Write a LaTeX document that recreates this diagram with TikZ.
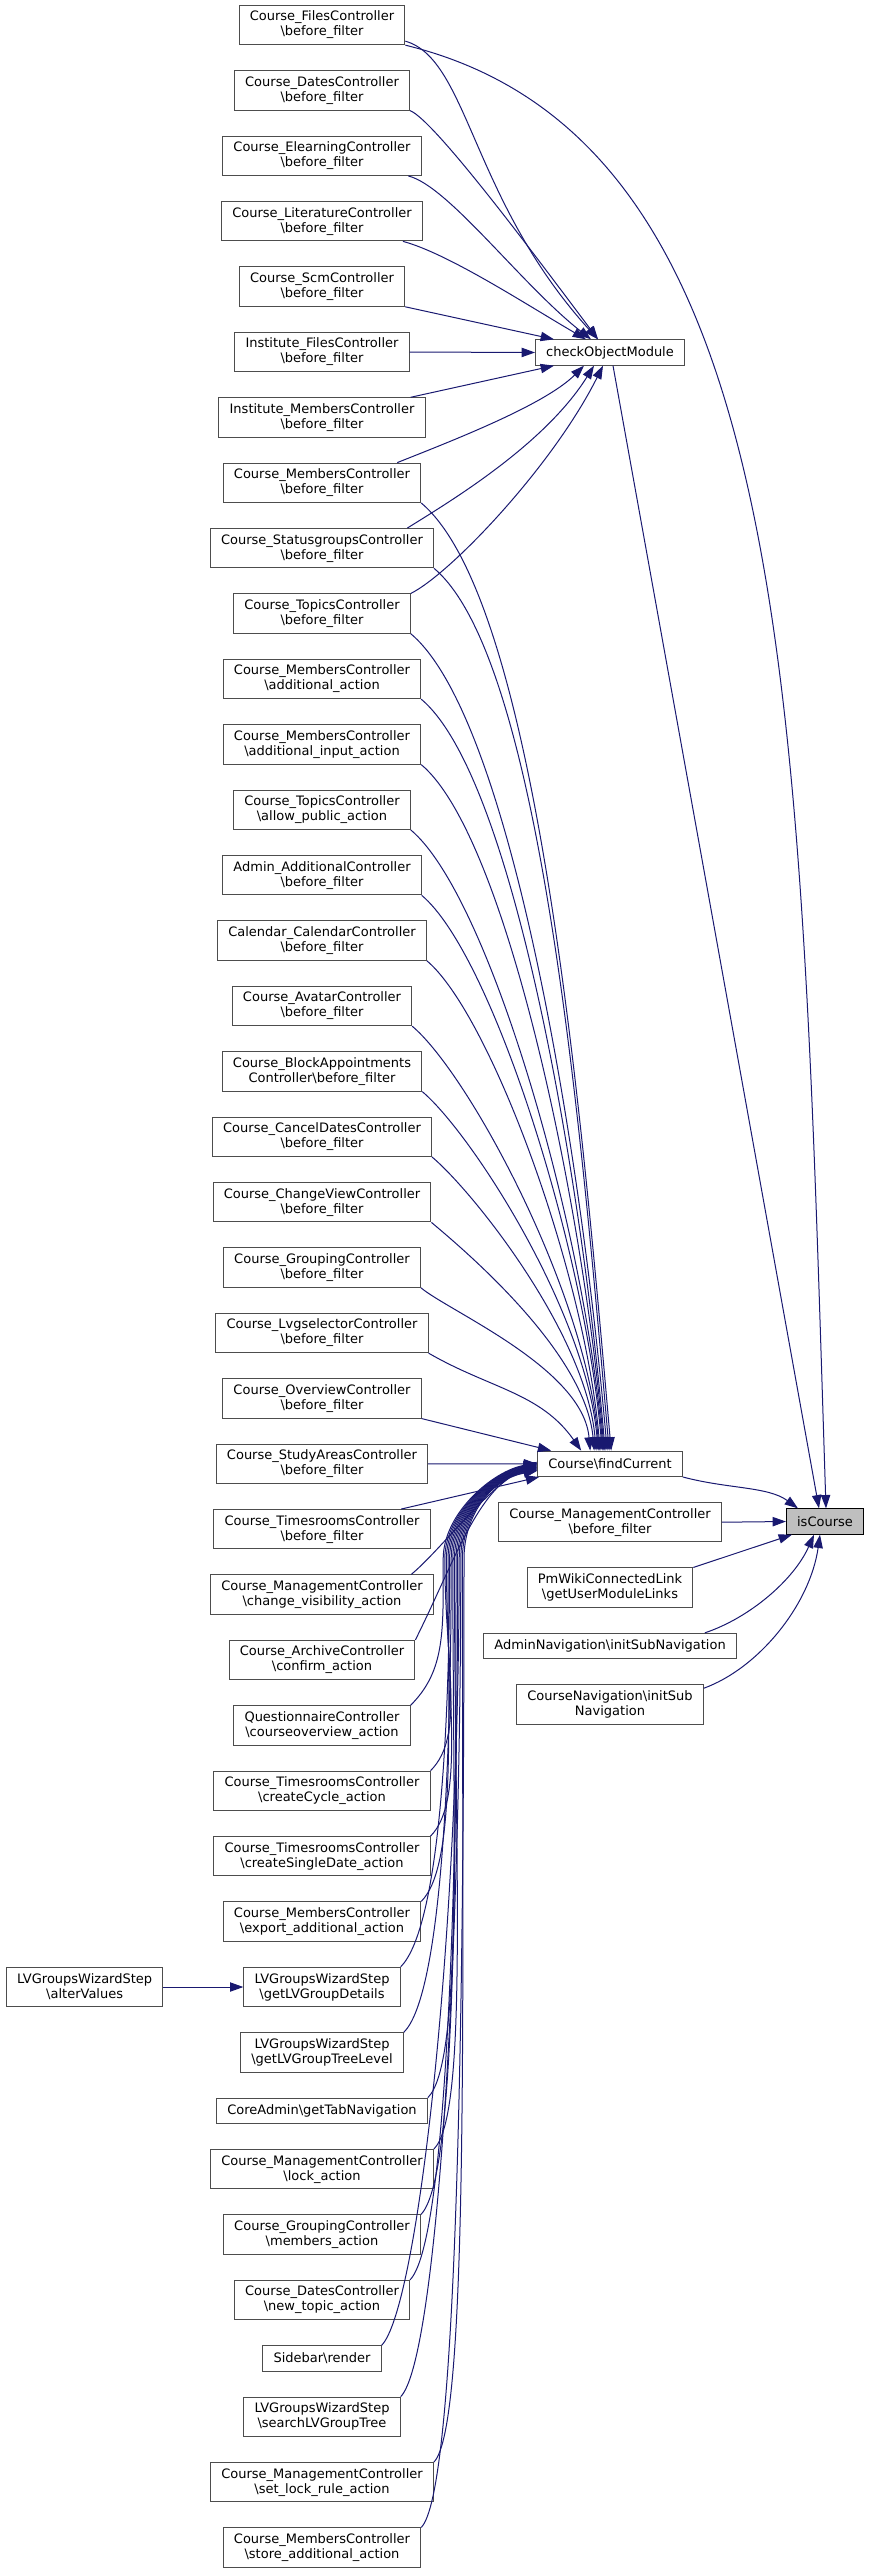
\documentclass[tikz,border=0pt]{standalone}
\usepackage{fontspec}
\setmainfont{DejaVu Sans}
\usetikzlibrary{positioning,calc,arrows.meta}

\definecolor{edgeblue}{HTML}{191970}
\definecolor{boxgray}{HTML}{4D4D4D}
\definecolor{rootfill}{HTML}{BFBFBF}
\newcommand{\bks}{\textbackslash}

\tikzset{
  fn/.style={draw=boxgray, line width=0.75pt, fill=white, align=center,
    font=\fontsize{9.75}{11.25}\selectfont, minimum height=29.5pt,
    inner xsep=8pt, inner ysep=0pt},
  fnone/.style={fn, minimum height=19pt},
  root/.style={fnone, draw=black, fill=rootfill},
  call/.style={draw=edgeblue, line width=0.75pt, -{Triangle[length=10pt,width=7pt]}},
}

\begin{document}
\begin{tikzpicture}[x=0.75pt, y=0.75pt, node distance=18.8pt]
\useasboundingbox (0,0) rectangle (869,-2573);

% callers, left column
\node[fn] (r1) at (322,-25) {Course\_FilesController\\\bks before\_filter};
\node[fn, below=of r1] (r2) {Course\_DatesController\\\bks before\_filter};
\node[fn, below=of r2] (r3) {Course\_ElearningController\\\bks before\_filter};
\node[fn, below=of r3] (r4) {Course\_LiteratureController\\\bks before\_filter};
\node[fn, below=of r4] (r5) {Course\_ScmController\\\bks before\_filter};
\node[fn, below=of r5] (r6) {Institute\_FilesController\\\bks before\_filter};
\node[fn, below=of r6] (r7) {Institute\_MembersController\\\bks before\_filter};
\node[fn, below=of r7] (r8) {Course\_MembersController\\\bks before\_filter};
\node[fn, below=of r8] (r9) {Course\_StatusgroupsController\\\bks before\_filter};
\node[fn, below=of r9] (r10) {Course\_TopicsController\\\bks before\_filter};
\node[fn, below=of r10] (r11) {Course\_MembersController\\\bks additional\_action};
\node[fn, below=of r11] (r12) {Course\_MembersController\\\bks additional\_input\_action};
\node[fn, below=of r12] (r13) {Course\_TopicsController\\\bks allow\_public\_action};
\node[fn, below=of r13] (r14) {Admin\_AdditionalController\\\bks before\_filter};
\node[fn, below=of r14] (r15) {Calendar\_CalendarController\\\bks before\_filter};
\node[fn, below=of r15] (r16) {Course\_AvatarController\\\bks before\_filter};
\node[fn, below=of r16] (r17) {Course\_BlockAppointments\\Controller\bks before\_filter};
\node[fn, below=of r17] (r18) {Course\_CancelDatesController\\\bks before\_filter};
\node[fn, below=of r18] (r19) {Course\_ChangeViewController\\\bks before\_filter};
\node[fn, below=of r19] (r20) {Course\_GroupingController\\\bks before\_filter};
\node[fn, below=of r20] (r21) {Course\_LvgselectorController\\\bks before\_filter};
\node[fn, below=of r21] (r22) {Course\_OverviewController\\\bks before\_filter};
\node[fn, below=of r22] (r23) {Course\_StudyAreasController\\\bks before\_filter};
\node[fn, below=of r23] (r24) {Course\_TimesroomsController\\\bks before\_filter};
\node[fn, below=of r24] (r25) {Course\_ManagementController\\\bks change\_visibility\_action};
\node[fn, below=of r25] (r26) {Course\_ArchiveController\\\bks confirm\_action};
\node[fn, below=of r26] (r27) {QuestionnaireController\\\bks courseoverview\_action};
\node[fn, below=of r27] (r28) {Course\_TimesroomsController\\\bks createCycle\_action};
\node[fn, below=of r28] (r29) {Course\_TimesroomsController\\\bks createSingleDate\_action};
\node[fn, below=of r29] (r30) {Course\_MembersController\\\bks export\_additional\_action};
\node[fn, below=of r30] (r31) {LVGroupsWizardStep\\\bks getLVGroupDetails};
\node[fn, below=of r31] (r32) {LVGroupsWizardStep\\\bks getLVGroupTreeLevel};
\node[fnone, below=of r32] (r33) {CoreAdmin\bks getTabNavigation};
\node[fn, below=of r33] (r34) {Course\_ManagementController\\\bks lock\_action};
\node[fn, below=of r34] (r35) {Course\_GroupingController\\\bks members\_action};
\node[fn, below=of r35] (r36) {Course\_DatesController\\\bks new\_topic\_action};
\node[fnone, below=of r36] (r37) {Sidebar\bks render};
\node[fn, below=of r37] (r38) {LVGroupsWizardStep\\\bks searchLVGroupTree};
\node[fn, below=of r38] (r39) {Course\_ManagementController\\\bks set\_lock\_rule\_action};
\node[fn, below=of r39] (r40) {Course\_MembersController\\\bks store\_additional\_action};

\node[fn, left=60pt of r31] (av) {LVGroupsWizardStep\\\bks alterValues};

% middle column
\node[fnone] (co) at (610,-352.5) {checkObjectModule};
\node[fnone] (fc) at (610,-1463.8) {Course\bks findCurrent};
\node[fn, below=of fc] (mb) {Course\_ManagementController\\\bks before\_filter};
\node[fn, below=of mb] (pm) {PmWikiConnectedLink\\\bks getUserModuleLinks};
\node[fnone, below=of pm] (an) {AdminNavigation\bks initSubNavigation};
\node[fn, below=of an] (cn) {CourseNavigation\bks initSub\\Navigation};

\node[root] (ic) at (825,-1521.5) {isCourse};

% calls into checkObjectModule
\draw[call] ([yshift=3pt]r1.south east) .. controls +(63,-18) and +(-127,140) .. ($(co.north west)+(63,0)$);
\draw[call] (r2.south east) .. controls +(25,-10) and +(-60,80) .. ($(co.north west)+(63,0)$);
\draw[call] ([xshift=-10pt]r3.south east) .. controls +(40,-10) and +(-70,55) .. ($(co.north west)+(56,0)$);
\draw[call] ([xshift=-15pt]r4.south east) .. controls +(45,-12) and +(-60,35) .. ($(co.north west)+(51,0)$);
\draw[call] (r5.south east) -- ($(co.north west)+(19,0)$);
\draw[call] (r6.east) -- (co.west);
\draw[call] ([xshift=-11pt]r7.north east) -- ($(co.south west)+(19,0)$);
\draw[call] ([xshift=-18pt]r8.north east) .. controls +(50,20) and +(-40,-40) .. ($(co.south west)+(49,0)$);
\draw[call] ([xshift=-20pt]r9.north east) .. controls +(40,25) and +(-50,-80) .. ($(co.south west)+(59,0)$);
\draw[call] (r10.north east) .. controls +(40,20) and +(-50,-100) .. ($(co.south west)+(68,0)$);

% calls into findCurrent from above
\foreach \k/\ex in {8/74, 9/72, 10/70, 11/68, 12/67, 13/66, 14/65, 15/63, 16/62, 17/61, 18/59, 19/57, 20/53}
  \draw[call] (r\k.south east) to[out=-40, in=95, out looseness=0.4, in looseness=0.9] ($(fc.north west)+(\ex,0)$);
\draw[call] (r21.south east) to[out=-30, in=125] ($(fc.north west)+(44,0)$);
\draw[call] (r22.south east) -- ($(fc.north west)+(14,0)$);
\draw[call] (r23.east) -- (fc.west);
\draw[call] ([xshift=-22pt]r24.north east) -- ($(fc.south west)+(2,0)$);

% calls into findCurrent from below
\draw[call] ([xshift=-17pt]r25.north east) .. controls +(30,25) and +(-50,-25) .. ($(fc.west)+(0,2)$);
\draw[call] (r26.north east) .. controls +(40,80) and +(-60,-25) .. ($(fc.west)+(0,1)$);
\foreach \k/\dy in {27/239, 28/305, 29/370, 30/436, 31/501, 32/566, 33/632, 34/683, 35/749, 36/814, 37/879, 38/931, 39/996, 40/1062}
  \draw[call] (r\k.north east) .. controls +(35,35) and +(0,{-0.5*(\dy-95)}) .. ($(fc.west)+({-94+1.6*(\k-27)},-95)$)
    .. controls +(0,45) and +(-45,-8) .. ($(fc.west)+(0,{2-0.6*(\k-25)})$);

\draw[call] (av.east) -- (r31.west);

% calls into isCourse
\draw[call] (r1.south east) .. controls +(390,-95) and +(-26,810) .. ($(ic.north)+(1,0)$);
\draw[call] ($(co.south)+(3,0)$) -- ($(ic.north)+(-6,0)$);
\draw[call] (fc.south east) .. controls +(45,-12) and +(-30,22) .. ($(ic.north west)+(12,0)$);
\draw[call] (mb.east) -- (ic.west);
\draw[call] (pm.north east) -- ($(ic.south west)+(6,0)$);
\draw[call] ([xshift=-24pt]an.north east) .. controls +(45,15) and +(-20,-45) .. ($(ic.south)+(-11,0)$);
\draw[call] ([yshift=-3pt]cn.north east) .. controls +(55,20) and +(-10,-70) .. ($(ic.south)+(-5,0)$);
\end{tikzpicture}
\end{document}
